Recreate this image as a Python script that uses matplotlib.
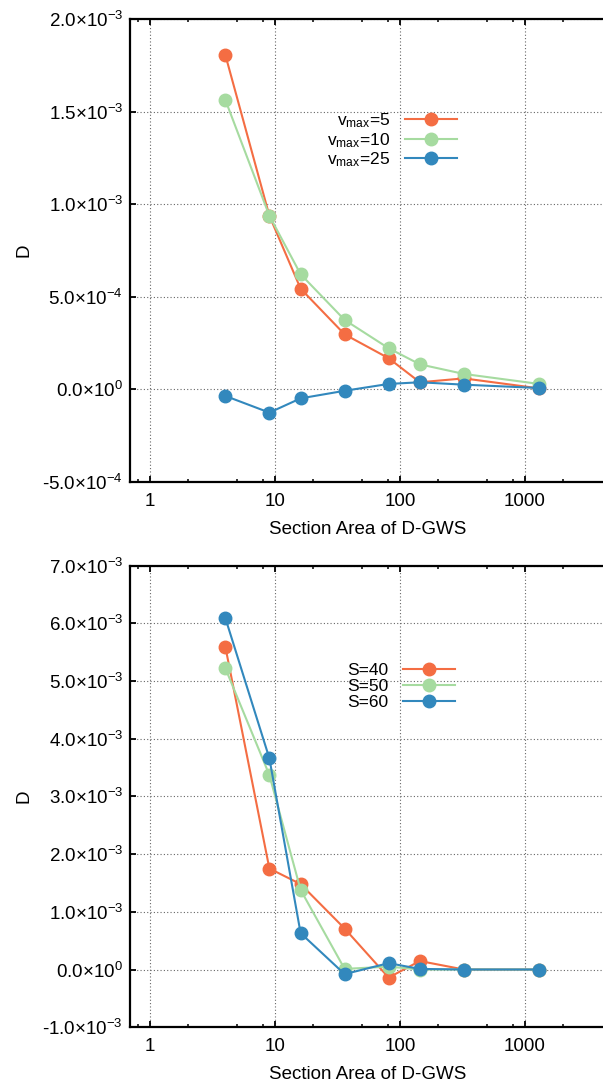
import matplotlib
matplotlib.use('Agg')
import matplotlib.pyplot as plt
from matplotlib.ticker import FixedLocator, FuncFormatter, NullFormatter
import numpy as np

plt.rcParams['font.family'] = ['Liberation Sans', 'DejaVu Sans']
plt.rcParams['mathtext.fontset'] = 'custom'
plt.rcParams['mathtext.rm'] = 'Liberation Sans'
plt.rcParams['mathtext.it'] = 'Liberation Sans:italic'
plt.rcParams['mathtext.bf'] = 'Liberation Sans:bold'

# ---------------- data ----------------
section_area = [4, 9, 16, 36, 81, 144, 324, 1296]

vmax_labels = [r'v$_{\mathrm{max}}$=5', r'v$_{\mathrm{max}}$=10', r'v$_{\mathrm{max}}$=25']
vmax5 = [1.807e-3, 0.938e-3, 0.544e-3, 0.297e-3, 0.168e-3, 0.038e-3, 0.059e-3, 0.005e-3]
vmax10 = [1.564e-3, 0.938e-3, 0.622e-3, 0.375e-3, 0.222e-3, 0.135e-3, 0.083e-3, 0.029e-3]
vmax25 = [-0.036e-3, -0.126e-3, -0.049e-3, -0.008e-3, 0.029e-3, 0.038e-3, 0.025e-3, 0.007e-3]

s_labels = ['S=40', 'S=50', 'S=60']
s40 = [5.59e-3, 1.75e-3, 1.48e-3, 0.71e-3, -0.14e-3, 0.147e-3, 0.0, 0.0]
s50 = [5.22e-3, 3.37e-3, 1.38e-3, 0.01e-3, 0.05e-3, 0.0, 0.0, 0.0]
s60 = [6.09e-3, 3.66e-3, 0.63e-3, -0.08e-3, 0.11e-3, 0.01e-3, 0.0, 0.0]

x_major = [1, 10, 100, 1000]
x_major_labels = ['1', '10', '100', '1000']
x_minor = [0.8, 2, 5, 8, 20, 50, 80, 200, 500, 800, 2000]
top_yticks = [-5e-4, 0, 5e-4, 1e-3, 1.5e-3, 2e-3]
bot_yticks = [-1e-3, 0, 1e-3, 2e-3, 3e-3, 4e-3, 5e-3, 6e-3, 7e-3]

colors = ['#F46D43', '#A6DBA0', '#3288BD']

# ---------------- figure ----------------
W, H = 603, 1088
fig = plt.figure(figsize=(W / 100, H / 100), dpi=100)

left_px, right_px = 130, 605
xlim = (0.69, 10 ** ((right_px - 150) / 125))
FS = 13.5


def fmt_sci(v, pos=None):
    if abs(v) < 1e-12:
        return '0.0×10$^{0}$'
    e = int(np.floor(np.log10(abs(v)) + 1e-9))
    m = v / 10 ** e
    return f'{m:.1f}×10$^{{{e}}}$'


def make_axes(top_px, bot_px):
    ax = fig.add_axes([left_px / W, 1 - bot_px / H,
                       (right_px - left_px) / W, (bot_px - top_px) / H])
    return ax


def style(ax, yticks, ylim):
    ax.set_xscale('log')
    ax.set_xlim(*xlim)
    ax.set_ylim(*ylim)
    ax.xaxis.set_major_locator(FixedLocator(x_major))
    ax.xaxis.set_major_formatter(FuncFormatter(lambda v, p: x_major_labels[x_major.index(v)] if v in x_major else ''))
    ax.xaxis.set_minor_locator(FixedLocator(x_minor))
    ax.xaxis.set_minor_formatter(NullFormatter())
    ax.yaxis.set_major_locator(FixedLocator(yticks))
    ax.yaxis.set_major_formatter(FuncFormatter(fmt_sci))
    ax.yaxis.set_minor_locator(FixedLocator([]))
    ax.spines['right'].set_visible(False)
    for s in ['top', 'left', 'bottom']:
        ax.spines[s].set_linewidth(1.6)
    ax.tick_params(axis='both', which='major', direction='in', length=4.5, width=1.3,
                   labelsize=FS, top=True, right=False)
    ax.tick_params(axis='x', which='major', pad=8)
    ax.tick_params(axis='y', which='major', pad=5)
    ax.tick_params(axis='x', which='minor', direction='in', length=2.5, width=1.1, top=True)
    ax.grid(True, which='major', color='#666666', linestyle=(0, (1, 2)), linewidth=0.8)
    ax.set_axisbelow(True)
    ax.set_xlabel('Section Area of D-GWS', fontsize=FS, labelpad=8)
    ax.set_ylabel('D', fontsize=FS)
    ax.yaxis.set_label_coords(-0.205, 0.5)


ax1 = make_axes(19.3, 481.8)
ax2 = make_axes(565.6, 1027.2)

for ax, series, labels in [(ax1, [vmax5, vmax10, vmax25], vmax_labels),
                           (ax2, [s40, s50, s60], s_labels)]:
    for ys, lab, c in zip(series, labels, colors):
        ax.plot(section_area, ys, color=c, linewidth=1.5, marker='o',
                markersize=9, label=lab, clip_on=False, zorder=3)

style(ax1, top_yticks, (-5e-4, 2e-3))
style(ax2, bot_yticks, (-1e-3, 7e-3))

LFS = 12.5
leg_kw = dict(frameon=False, markerfirst=False, fontsize=LFS, handlelength=52 / (LFS * 100 / 72),
              handletextpad=15 / (LFS * 100 / 72), labelspacing=0.05, borderpad=0, borderaxespad=0,
              numpoints=1, loc='center')
ax1.legend(bbox_to_anchor=(0.552, 0.7385), **leg_kw)
ax2.legend(bbox_to_anchor=(0.571, 0.739), **leg_kw)

fig.savefig('out.png', dpi=100)
